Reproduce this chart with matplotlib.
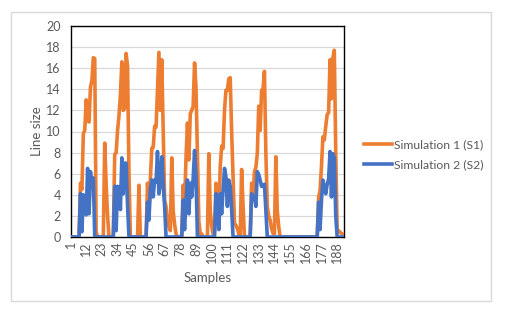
import matplotlib
matplotlib.use("Agg")
import matplotlib.pyplot as plt
from matplotlib.patches import Rectangle

# Sample index and line sizes for the two simulation runs
samples = list(range(1, 194))

sim1 = [
    0, 0, 0, 0, 0, 0, 0, 5.1, 4.5, 9.8,
    10.1, 13.0, 11.0, 10.9, 14.2, 14.8, 17.0, 16.9, 0.5, 0,
    0, 0, 0, 0, 8.9, 5.0, 2.0, 0, 0, 0,
    0, 7.8, 8.0, 10.1, 11.5, 13.5, 16.6, 12.0, 12.2, 17.4,
    16.2, 6.0, 0, 0, 0, 0, 0, 0, 4.9, 0,
    0, 0, 0, 0, 5.1, 2.5, 5.5, 8.4, 8.5, 10.5,
    10.4, 14.0, 17.5, 12.0, 16.8, 10.0, 3.5, 2.9, 1.6, 1.0,
    0.6, 7.5, 2.5, 1.2, 0.3, 0, 0, 0, 0, 4.9,
    3.0, 7.5, 10.8, 7.3, 11.7, 12.0, 12.4, 16.5, 14.2, 8.0,
    1.5, 0.3, 0.3, 0, 0, 0, 0, 7.9, 2.5, 1.0,
    0.3, 0.5, 5.1, 4.8, 1.9, 6.7, 8.6, 8.4, 12.0, 13.9,
    13.9, 15.0, 15.1, 10.0, 5.5, 1.3, 1.1, 0.8, 0.3, 0,
    6.4, 3.0, 0, 0, 0, 0, 0, 5.1, 3.8, 6.2,
    6.6, 7.9, 12.4, 10.1, 13.9, 14.0, 15.7, 8.0, 2.9, 2.0,
    1.6, 0.8, 0.35, 0.3, 7.6, 2.5, 1.0, 0, 0, 0,
    0, 0, 0, 0, 0, 0, 0, 0, 0, 0,
    0, 0, 0, 0, 0, 0, 0, 0, 0, 0,
    0, 0, 0, 0, 3.8, 4.4, 6.7, 9.5, 9.2, 10.5,
    11.6, 11.8, 16.8, 13.1, 17.0, 17.7, 8.0, 0.6, 0.6, 0.45,
    0.35, 0.25, 0.1,
]

sim2 = [
    0, 0, 0, 0, 0, 0, 0, 4.1, 0.5, 4.0,
    3.8, 2.1, 6.5, 2.2, 6.2, 4.8, 5.6, 0, 0, 0,
    0, 0, 0, 0, 0, 0, 0, 0, 0, 0,
    0, 4.8, 0.6, 4.8, 4.7, 2.6, 7.5, 4.1, 7.0, 7.0,
    3.0, 0, 0, 0, 0, 0, 0, 0, 0, 0,
    0, 0, 0, 0, 3.3, 1.6, 4.5, 5.4, 3.8, 5.4,
    5.2, 8.1, 4.1, 5.0, 7.6, 5.0, 2.9, 0, 0, 0,
    0, 0, 0, 0, 0, 0, 0, 0, 0, 3.5,
    0.7, 3.5, 5.4, 2.2, 5.1, 3.8, 5.5, 8.2, 5.7, 0,
    0, 0, 0, 0, 0, 0, 0, 0, 0, 0,
    0, 0, 4.1, 3.8, 0.7, 4.1, 2.2, 4.5, 6.5, 5.7,
    2.9, 5.4, 4.8, 2.6, 0, 0, 0, 0, 0, 0,
    0, 0, 0, 0, 0, 0, 0, 4.1, 3.8, 3.8,
    2.9, 6.2, 5.9, 5.4, 4.8, 4.8, 5.0, 2.5, 0, 0,
    0, 0, 0, 0, 0, 0, 0, 0, 0, 0,
    0, 0, 0, 0, 0, 0, 0, 0, 0, 0,
    0, 0, 0, 0, 0, 0, 0, 0, 0, 0,
    0, 0, 0, 0, 3.3, 0.7, 3.5, 5.4, 4.7, 4.1,
    5.0, 5.5, 8.1, 3.8, 7.9, 7.5, 2.0, 0, 0, 0,
    0, 0, 0,
]

x_ticks = [1, 12, 23, 34, 45, 56, 67, 78, 89, 100, 111, 122, 133, 144, 155, 166, 177, 188]
y_ticks = [0, 2, 4, 6, 8, 10, 12, 14, 16, 18, 20]

series_names = ["Simulation 1 (S1)", "Simulation 2 (S2)"]
series_colors = ["#ED7D31", "#4472C4"]

plt.rcParams["font.family"] = ["Lato", "DejaVu Sans"]
text_color = "#595959"

W, H = 509, 329
fig = plt.figure(figsize=(W / 100, H / 100), dpi=100)
fig.patch.set_facecolor("white")

# chart frame
fig.patches.append(Rectangle((10.7 / W, 1 - 300.7 / H), (490.7 - 10.7) / W, (300.7 - 12.3) / H,
                             transform=fig.transFigure, fill=False,
                             edgecolor="#D9D9D9", linewidth=1.0))

left, right, top, bottom = 70.5, 344.3, 26.0, 237.0
ax = fig.add_axes([left / W, 1 - bottom / H, (right - left) / W, (bottom - top) / H])

ax.plot(samples, sim1, color=series_colors[0], linewidth=2.6, label=series_names[0],
        solid_joinstyle="round", zorder=3)
ax.plot(samples, sim2, color=series_colors[1], linewidth=2.6, label=series_names[1],
        solid_joinstyle="round", zorder=4)

ax.set_xlim(1, 193)
ax.set_ylim(0, 20)
ax.set_yticks(y_ticks)
ax.set_xticks(x_ticks)
ax.set_xticklabels([str(t) for t in x_ticks], rotation=90)
ax.tick_params(axis="both", length=0, labelsize=9, labelcolor=text_color)
ax.tick_params(axis="y", pad=7)
ax.tick_params(axis="x", pad=3)

ax.grid(axis="y", color="#D9D9D9", linewidth=0.9)
ax.set_axisbelow(True)
for sp in ax.spines.values():
    sp.set_color("black")
    sp.set_linewidth(1.0)

ax.set_xlabel("Samples", fontsize=9.5, color=text_color, labelpad=6)
ax.set_ylabel("Line size", fontsize=9.5, color=text_color, labelpad=2)

leg = ax.legend(loc="center left", bbox_to_anchor=(364 / W, 1 - 155 / H),
                bbox_transform=fig.transFigure, frameon=False, borderpad=0,
                borderaxespad=0, fontsize=8.7, handlelength=2.35, handletextpad=0.15,
                labelspacing=0.75, labelcolor=text_color)

fig.savefig("out.png", dpi=100)
